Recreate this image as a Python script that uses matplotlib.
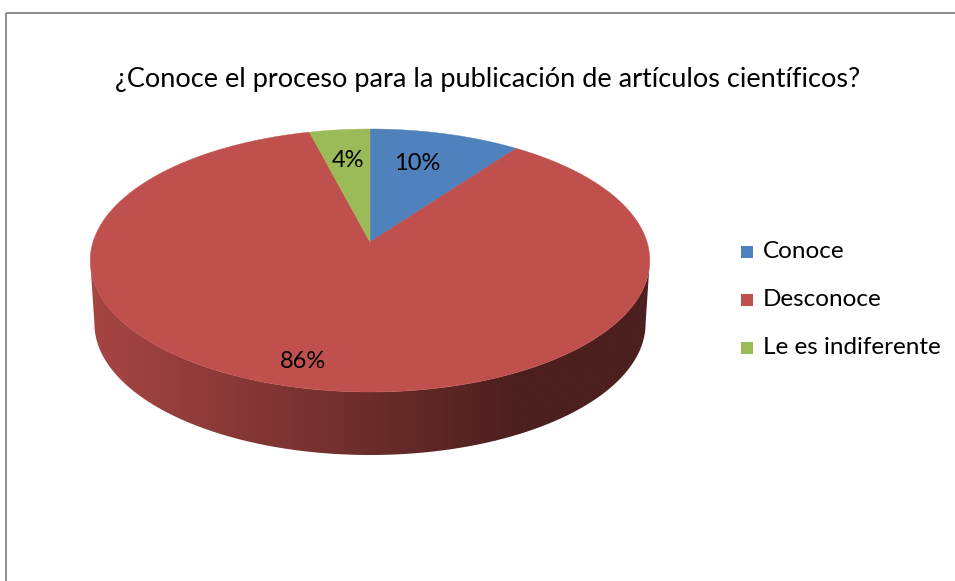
import numpy as np
import matplotlib
matplotlib.use("Agg")
import matplotlib.pyplot as plt
from matplotlib.patches import Polygon, Rectangle
from matplotlib.colors import to_rgb

# ---- data ----
title = "¿Conoce el proceso para la publicación de artículos científicos?"
categories = ["Conoce", "Desconoce", "Le es indiferente"]
values = [10, 86, 4]
pct_labels = ["10%", "86%", "4%"]
colors = ["#4F81BD", "#C0504D", "#9BBB59"]

FONT = ["Lato", "DejaVu Sans"]
W, H = 955, 581
fig = plt.figure(figsize=(W / 100, H / 100), dpi=100)
ax = fig.add_axes([0, 0, 1, 1])
ax.set_xlim(0, W)
ax.set_ylim(H, 0)
ax.axis("off")

# chart frame
ax.add_patch(Rectangle((5.5, 12.5), W + 20, H + 20, fill=False,
                       edgecolor="#868686", lw=1.3))

# ---- perspective projection of a unit disk ----
cx, A = 370.0, 277.0
p, q, r = 242.0, 94.85, -0.1407
depth = 63.0
shrink = 0.985


def proj(phi, rad=1.0, bottom=False):
    """phi: angle clockwise from the back (top of screen), radians."""
    u = rad * np.sin(phi)
    v = -rad * np.cos(phi)
    d = 1 + r * v
    x = cx + A * u / d
    y = (p + q * v) / d
    if bottom:
        x = cx + (x - cx) * shrink
        y = y + depth
    return x, y


total = float(sum(values))
fracs = [v / total for v in values]
starts = np.cumsum([0] + fracs[:-1]) * 2 * np.pi
ends = starts + np.array(fracs) * 2 * np.pi

# horizontal extremes of the top ellipse -> visible side range
tt = np.linspace(0, 2 * np.pi, 4001)
xx, _ = proj(tt)
phi_right = tt[np.argmax(xx)]
phi_left = tt[np.argmin(xx)]

# side faces (only front part visible)
xg = np.linspace(85, 660, 600)
shade = np.clip(0.87 - (xg - 91) * 0.00112, 0.40, 1)
for s, e, c in zip(starts, ends, colors):
    lo, hi = max(s, phi_right), min(e, phi_left)
    if hi <= lo:
        continue
    ph = np.linspace(lo, hi, 300)
    xt, yt = proj(ph)
    xb, yb = proj(ph[::-1], bottom=True)
    poly = Polygon(np.column_stack([np.r_[xt, xb], np.r_[yt, yb]]),
                   closed=True, facecolor="none", edgecolor="none")
    ax.add_patch(poly)
    rgb = np.array(to_rgb(c))
    img = (shade[:, None] * rgb[None, :])[None, :, :]
    im = ax.imshow(img, extent=[85, 660, 470, 230], aspect="auto",
                   interpolation="bilinear", zorder=2)
    im.set_clip_path(poly)

# top faces
for s, e, c in zip(starts, ends, colors):
    ph = np.linspace(s, e, 400)
    xs, ys = proj(ph)
    x0, y0 = proj(0.0, rad=0.0)
    ax.add_patch(Polygon(np.column_stack([np.r_[x0, xs], np.r_[y0, ys]]),
                         closed=True, facecolor=c, edgecolor=c, lw=0.3,
                         zorder=3))

# percentage labels
for s, e, f, lab in zip(starts, ends, fracs, pct_labels):
    mid = (s + e) / 2
    rad = 0.7 if f < 0.5 else 0.845
    lx, ly = proj(mid + (0.068 if f >= 0.5 else 0), rad=rad)
    if f < 0.5 and (mid < np.pi):
        lx -= 8
    ax.text(lx, ly, lab, ha="center", va="center", fontsize=17,
            family=FONT, color="black", zorder=4)

# title
ax.text(487.5, 80, title, ha="center", va="center", fontsize=19.5,
        family=FONT, color="black")

# legend
for i, (cat, c) in enumerate(zip(categories, colors)):
    yc = 252 + 48 * i
    ax.add_patch(Rectangle((741, yc - 6), 12, 12, facecolor=c,
                           edgecolor="none"))
    ax.text(763, yc, cat, ha="left", va="center", fontsize=17.5,
            family=FONT, color="black")

fig.savefig("out.png", dpi=100)
